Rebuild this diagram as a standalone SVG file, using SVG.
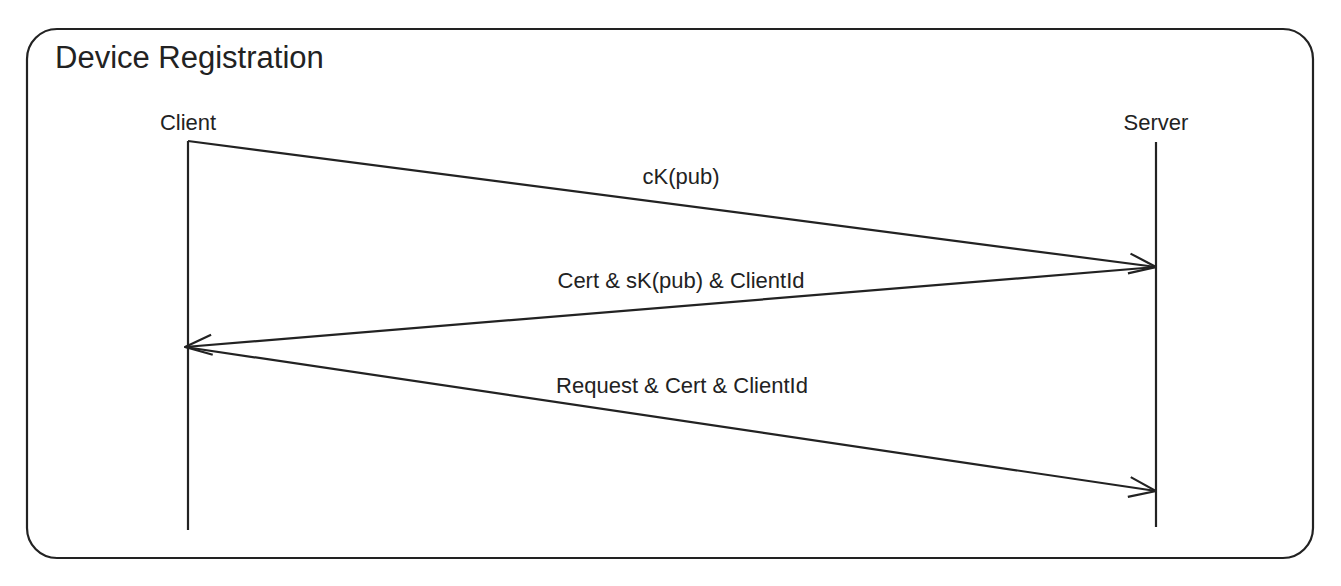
<svg xmlns="http://www.w3.org/2000/svg" width="1341" height="586" viewBox="0 0 1341 586">
<style>
.t{font-family:"Liberation Sans",Arial,sans-serif;fill:#222}
.l{stroke:#222;stroke-width:2.2;fill:none}
</style>
<defs>
<marker id="ah" viewBox="0 0 30 24" refX="29" refY="12" markerWidth="30" markerHeight="24" markerUnits="userSpaceOnUse" orient="auto">
<path d="M2,2 L29,12 L2,22" fill="none" stroke="#222" stroke-width="2.2"/>
</marker>
</defs>
<rect width="1341" height="586" fill="#fff"/>
<g id="frame">
<rect x="27" y="29" width="1286" height="529" rx="30" ry="30" class="l" stroke-width="2.4"/>
<text x="55" y="68" class="t" font-size="31">Device Registration</text>
</g>
<g id="client">
<text x="188" y="130" class="t" font-size="22" text-anchor="middle">Client</text>
<line x1="188" y1="141" x2="188" y2="530" class="l"/>
</g>
<g id="server">
<text x="1156" y="130" class="t" font-size="22" text-anchor="middle">Server</text>
<line x1="1156" y1="142" x2="1156" y2="527" class="l"/>
</g>
<g id="connectors">
<line x1="188" y1="141" x2="1156" y2="267" class="l" marker-end="url(#ah)"/>
<line x1="1156" y1="267" x2="185" y2="347" class="l" marker-end="url(#ah)"/>
<line x1="185" y1="347" x2="1156" y2="491" class="l" marker-end="url(#ah)"/>
<text x="681" y="184" class="t" font-size="22" text-anchor="middle">cK(pub)</text>
<text x="681" y="288" class="t" font-size="22" text-anchor="middle">Cert &amp; sK(pub) &amp; ClientId</text>
<text x="682" y="393" class="t" font-size="22" text-anchor="middle">Request &amp; Cert &amp; ClientId</text>
</g>
</svg>
